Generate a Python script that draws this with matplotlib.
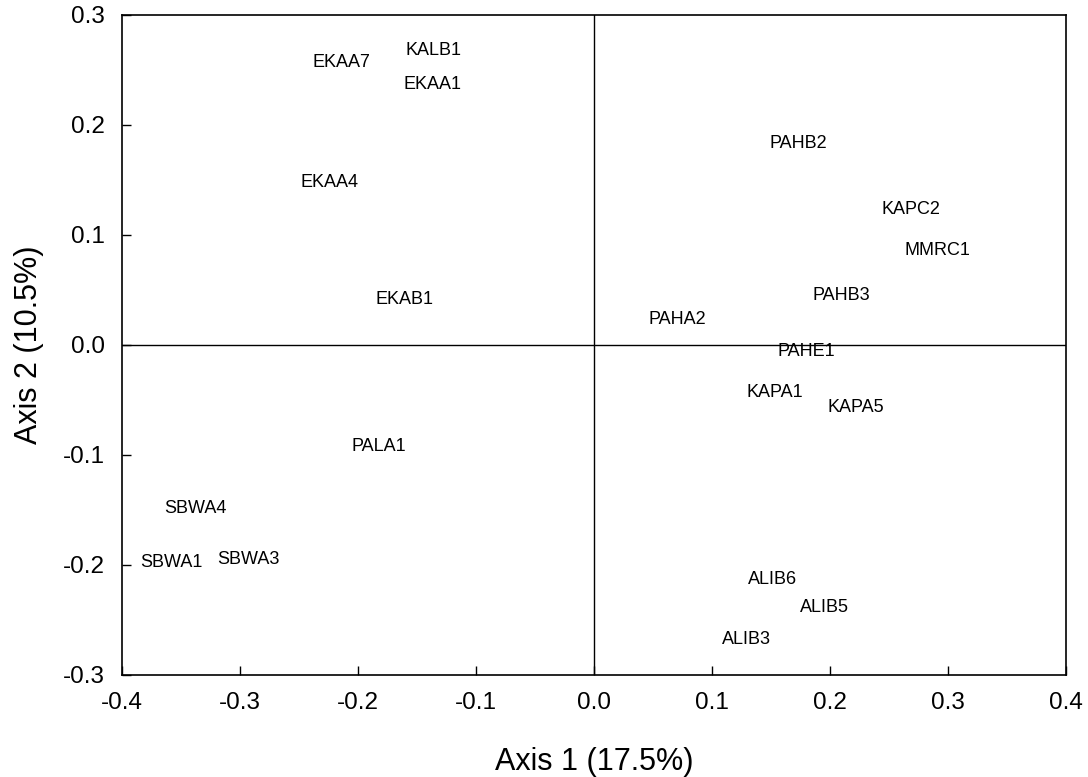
import matplotlib
matplotlib.use("Agg")
import matplotlib.pyplot as plt

plt.rcParams['font.family'] = ['Liberation Sans', 'DejaVu Sans']
plt.rcParams['axes.unicode_minus'] = False

labels = ["EKAA7", "KALB1", "EKAA1", "EKAA4", "EKAB1", "PALA1", "SBWA4", "SBWA1", "SBWA3",
          "PAHB2", "KAPC2", "MMRC1", "PAHB3", "PAHA2", "PAHE1", "KAPA1", "KAPA5",
          "ALIB6", "ALIB5", "ALIB3"]
axis1 = [-0.214, -0.136, -0.137, -0.224, -0.161, -0.182, -0.338, -0.358, -0.293,
         0.173, 0.269, 0.291, 0.210, 0.071, 0.180, 0.153, 0.222,
         0.151, 0.195, 0.129]
axis2 = [0.259, 0.270, 0.239, 0.150, 0.043, -0.090, -0.147, -0.196, -0.193,
         0.185, 0.125, 0.088, 0.047, 0.025, -0.004, -0.041, -0.055,
         -0.211, -0.237, -0.266]
xticks = [-0.4, -0.3, -0.2, -0.1, 0.0, 0.1, 0.2, 0.3, 0.4]
yticks = [-0.3, -0.2, -0.1, 0.0, 0.1, 0.2, 0.3]

fig = plt.figure(figsize=(10.88, 7.77), dpi=100)
ax = fig.add_axes([0.1121, 0.1313, 0.8677, 0.8494])
ax.set_xlim(-0.4, 0.4)
ax.set_ylim(-0.3, 0.3)
ax.axhline(0, color='black', lw=1.0)
ax.axvline(0, color='black', lw=1.0)
for lab, x, y in zip(labels, axis1, axis2):
    ax.annotate(lab, (x, y), xytext=(0, -1.5), textcoords='offset points',
                ha='center', va='center', fontsize=13)

ax.set_xticks(xticks)
ax.set_yticks(yticks)
ax.set_xticklabels([f"{t:.1f}" for t in xticks])
ax.set_yticklabels([f"{t:.1f}" for t in yticks])
ax.tick_params(direction='in', length=6.5, width=1.0, labelsize=17.5, pad=12,
               top=False, right=False)
for s in ax.spines.values():
    s.set_linewidth(1.2)
ax.set_xlabel("Axis 1 (17.5%)", fontsize=22, labelpad=24)
ax.set_ylabel("Axis 2 (10.5%)", fontsize=22, labelpad=14)

fig.savefig("out.png", dpi=100)
